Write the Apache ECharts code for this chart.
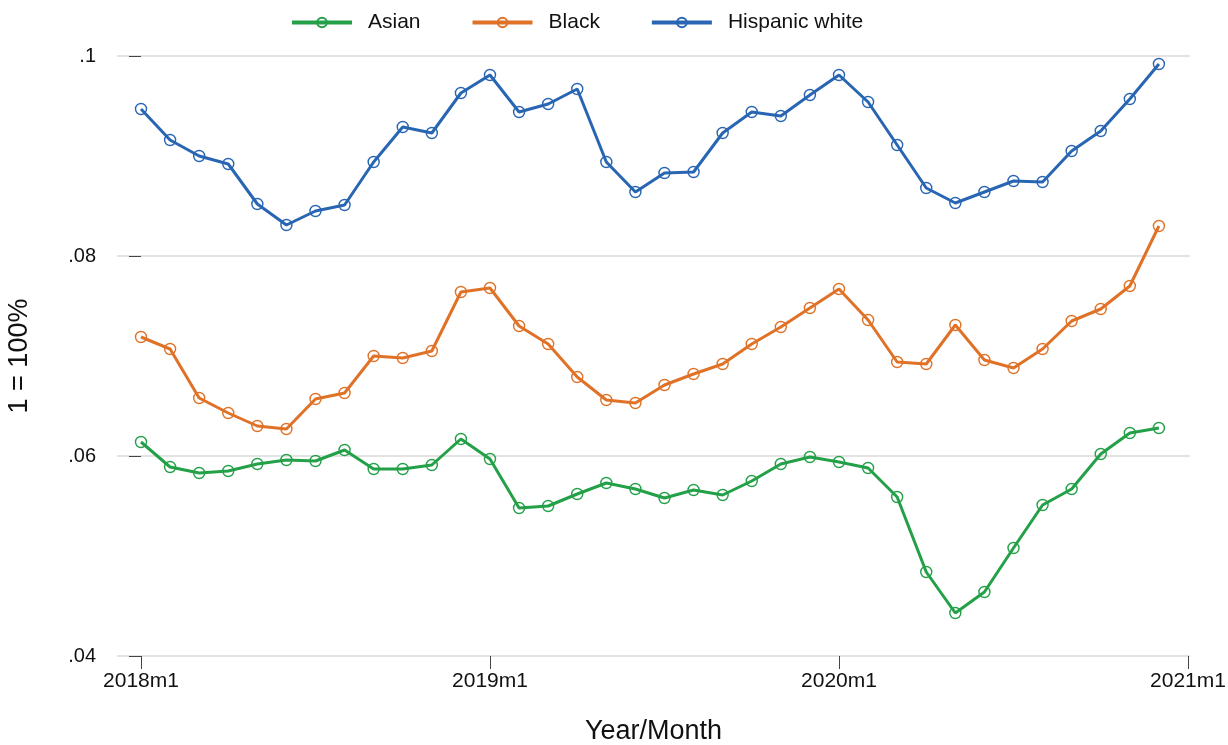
<!DOCTYPE html>
<html>
<head>
<meta charset="utf-8">
<title>Monthly rates by group</title>
<script src="https://cdn.jsdelivr.net/npm/echarts@6/dist/echarts.min.js"></script>
<style>
  html, body { margin: 0; padding: 0; background: #fff; }
  #chart { width: 1228px; height: 745px; }
</style>
</head>
<body>
<div id="chart"></div>
<script>
// Monthly values, 2018m1 .. 2020m12 (36 months)
const asian = [
  0.0614, 0.0589, 0.0583, 0.0585, 0.0592, 0.0596, 0.0595, 0.0606, 0.0587, 0.0587, 0.0591, 0.0617,
  0.0597, 0.0548, 0.0550, 0.0562, 0.0573, 0.0567, 0.0558, 0.0566, 0.0561, 0.0575, 0.0592, 0.0599,
  0.0594, 0.0588, 0.0559, 0.0484, 0.0443, 0.0464, 0.0508, 0.0551, 0.0567, 0.0602, 0.0623, 0.0628
];
const black = [
  0.0719, 0.0707, 0.0658, 0.0643, 0.0630, 0.0627, 0.0657, 0.0663, 0.0700, 0.0698, 0.0705, 0.0764,
  0.0768, 0.0730, 0.0712, 0.0679, 0.0656, 0.0653, 0.0671, 0.0682, 0.0692, 0.0712, 0.0729, 0.0748,
  0.0767, 0.0736, 0.0694, 0.0692, 0.0731, 0.0696, 0.0688, 0.0707, 0.0735, 0.0747, 0.0770, 0.0830
];
const hispanicWhite = [
  0.0947, 0.0916, 0.0900, 0.0892, 0.0852, 0.0831, 0.0845, 0.0851, 0.0894, 0.0929, 0.0923, 0.0963,
  0.0981, 0.0944, 0.0952, 0.0967, 0.0894, 0.0864, 0.0883, 0.0884, 0.0923, 0.0944, 0.0940, 0.0961,
  0.0981, 0.0954, 0.0911, 0.0868, 0.0853, 0.0864, 0.0875, 0.0874, 0.0905, 0.0925, 0.0957, 0.0992
];
const seriesNames = ['Asian', 'Black', 'Hispanic white'];
const seriesColors = ['#23a048', '#e07228', '#2865b2'];

// x ticks: months since 2018m1
const xTickValues = [0, 12, 24, 36];
const xTickLabels = ['2018m1', '2019m1', '2020m1', '2021m1'];

const FONT = 'Liberation Sans, Arial, sans-serif';
const toPoints = arr => arr.map((v, i) => [i, v]);

const chart = echarts.init(document.getElementById('chart'), null, { renderer: 'canvas' });

const seriesData = [asian, black, hispanicWhite];

chart.setOption({
  backgroundColor: '#ffffff',
  animation: false,
  textStyle: { fontFamily: FONT },
  legend: {
    top: 7,
    left: 285,
    itemWidth: 60,
    itemHeight: 12,
    itemGap: 50,
    lineStyle: { width: 4 },
    textStyle: { fontSize: 21, color: '#111', fontFamily: FONT, padding: [0, 0, 0, 11] },
    data: seriesNames
  },
  grid: { left: 117, right: 38, top: 56, bottom: 89, outerBoundsMode: 'none', containLabel: false },
  xAxis: {
    type: 'value',
    min: -0.825,
    max: 36.069,
    name: 'Year/Month',
    nameLocation: 'middle',
    nameGap: 62,
    nameTextStyle: { fontSize: 27, color: '#111', fontFamily: FONT },
    axisLine: { show: false },
    axisTick: {
      show: true,
      customValues: xTickValues,
      length: 13,
      lineStyle: { color: '#444', width: 1 }
    },
    axisLabel: {
      customValues: xTickValues,
      formatter: v => xTickLabels[xTickValues.indexOf(Math.round(v))] || '',
      fontSize: 21,
      color: '#111',
      margin: 15,
      fontFamily: FONT
    },
    splitLine: { show: false }
  },
  yAxis: {
    type: 'value',
    min: 0.04,
    max: 0.1,
    interval: 0.02,
    name: '1 = 100%',
    nameLocation: 'middle',
    nameGap: 84,
    nameRotate: 90,
    nameTextStyle: { fontSize: 27, color: '#111', fontFamily: FONT },
    axisLine: { show: false },
    axisTick: { show: true, length: 12, lineStyle: { color: '#444', width: 1 } },
    axisLabel: {
      formatter: v => {
        const s = String(+v.toFixed(4));
        return s.replace(/^0\./, '.');
      },
      fontSize: 20,
      color: '#111',
      margin: 21,
      fontFamily: FONT
    },
    splitLine: { show: true, lineStyle: { color: '#e3e3e3', width: 2 } }
  },
  series: seriesNames.map((name, k) => ({
    name,
    type: 'line',
    data: toPoints(seriesData[k]),
    symbol: 'circle',
    symbolSize: 11,
    showAllSymbol: true,
    color: seriesColors[k],
    lineStyle: { color: seriesColors[k], width: 3 },
    itemStyle: { color: 'rgba(255,255,255,0)', borderColor: seriesColors[k], borderWidth: 1.4 },
    z: 2 + k
  }))
});
</script>
</body>
</html>
